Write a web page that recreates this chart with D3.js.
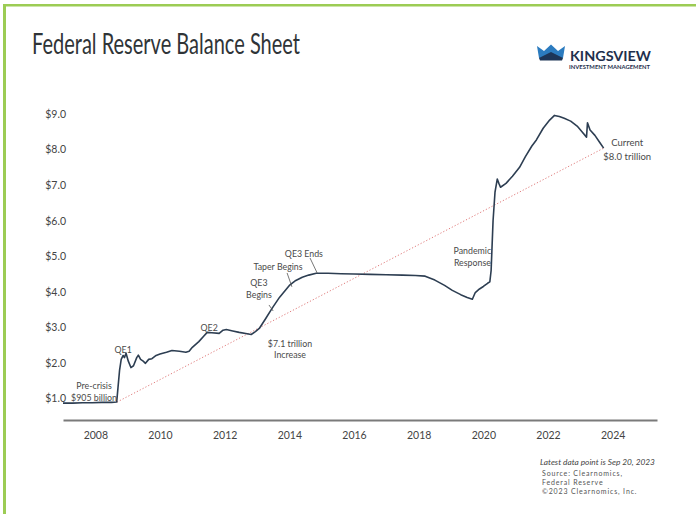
<!DOCTYPE html>
<html><head><meta charset="utf-8">
<script src="https://cdn.jsdelivr.net/npm/d3@7"></script>
<style>
html,body{margin:0;padding:0;background:#fff;}
svg{display:block;font-family:Lato,"Open Sans",sans-serif;}
</style></head>
<body>
<svg id="c" width="696" height="514"></svg>
<script>
// ---- data (decimal years, $ trillions) ----
const dates = [2007.00,2007.30,2007.60,2007.90,2008.20,2008.50,2008.66,2008.70,2008.75,2008.80,2008.86,2008.90,2008.95,2009.02,2009.10,2009.18,2009.28,2009.33,2009.40,2009.48,2009.55,2009.65,2009.75,2009.88,2010.00,2010.20,2010.37,2010.60,2010.80,2010.90,2011.00,2011.20,2011.35,2011.46,2011.60,2011.83,2011.95,2012.05,2012.25,2012.45,2012.65,2012.82,2012.95,2013.07,2013.25,2013.47,2013.70,2014.00,2014.20,2014.40,2014.60,2014.83,2015.20,2015.60,2016.00,2016.50,2017.00,2017.50,2017.90,2018.20,2018.50,2018.80,2019.04,2019.30,2019.50,2019.66,2019.75,2019.88,2020.00,2020.13,2020.20,2020.24,2020.30,2020.36,2020.43,2020.48,2020.53,2020.70,2020.90,2021.12,2021.30,2021.50,2021.64,2021.85,2022.05,2022.20,2022.35,2022.50,2022.70,2022.90,2023.05,2023.19,2023.22,2023.30,2023.45,2023.60,2023.72];
const balance = [0.87,0.87,0.88,0.88,0.89,0.89,0.90,1.30,1.80,2.10,2.21,2.15,2.27,2.05,1.87,1.92,2.15,2.22,2.10,2.05,1.99,2.10,2.12,2.21,2.25,2.30,2.35,2.33,2.30,2.33,2.44,2.60,2.75,2.86,2.85,2.83,2.92,2.94,2.90,2.86,2.83,2.80,2.88,2.97,3.22,3.54,3.85,4.18,4.32,4.41,4.47,4.52,4.52,4.51,4.50,4.49,4.48,4.47,4.46,4.44,4.33,4.18,4.04,3.92,3.84,3.79,3.98,4.08,4.15,4.24,4.28,4.60,6.00,6.80,7.17,7.05,6.94,7.05,7.25,7.50,7.80,8.10,8.27,8.60,8.83,8.96,8.93,8.88,8.80,8.66,8.50,8.35,8.75,8.55,8.40,8.20,8.04];
const trendDates = [2008.67, 2023.72];
const trendValues = [0.90, 8.04];
const yTicks = [1,2,3,4,5,6,7,8,9];
const xTicks = [2008,2010,2012,2014,2016,2018,2020,2022,2024];
const annotations = [
  {lines:["Pre-crisis","$905 billion"], d:2007.96, v:1.26},
  {lines:["QE1"], d:2008.86, v:2.29},
  {lines:["QE2"], d:2011.52, v:2.91},
  {lines:["QE3","Begins"], d:2013.06, v:4.15},
  {lines:["Taper Begins"], d:2013.65, v:4.60},
  {lines:["QE3 Ends"], d:2014.45, v:4.99},
  {lines:["$7.1 trillion","Increase"], d:2014.02, v:2.46},
  {lines:["Pandemic","Response"], d:2019.66, v:5.05},
  {lines:["Current","$8.0 trillion"], d:2024.45, v:8.11}
];
const leaders = [ // [d1,v1,d2,v2]
  [2013.37,3.63,2013.50,3.46],
  [2013.93,4.53,2014.08,4.14],
  [2014.64,4.95,2014.86,4.53]
];

const svg = d3.select("#c");
svg.append("rect").attr("width",696).attr("height",514).attr("fill","#fff");
// green frame
svg.append("rect").attr("x",3).attr("y",4).attr("width",693).attr("height",2.5).attr("fill","#9ccc54");
svg.append("rect").attr("x",3).attr("y",4).attr("width",3).attr("height",510).attr("fill","#9ccc54");

// title
svg.append("text").attr("x",32).attr("y",54).attr("font-size",28.5).attr("fill","#2f3437")
  .attr("textLength",268).attr("lengthAdjust","spacingAndGlyphs")
  .text("Federal Reserve Balance Sheet");

// logo
const logo = svg.append("g");
logo.append("path").attr("d","M537,46 L544,51 L551,44.5 L558,51 L565,46 L563,58 L539,58 Z").attr("fill","#2b7bbf");
logo.append("path").attr("d","M539,58 L551,52 L563,58 L562,60.5 L540,60.5 Z").attr("fill","#1d3557");
logo.append("text").attr("x",570).attr("y",61).attr("font-size",14).attr("font-weight",700)
  .attr("fill","#1e2f4d").attr("textLength",81).attr("lengthAdjust","spacingAndGlyphs").text("KINGSVIEW");
logo.append("text").attr("x",569).attr("y",69).attr("font-size",5.6).attr("font-weight",700)
  .attr("fill","#1e2f4d").attr("textLength",81).attr("lengthAdjust","spacingAndGlyphs").text("INVESTMENT MANAGEMENT");

// scales
const x = d3.scaleLinear().domain([2007, 2025.37]).range([63, 657]);
const y = d3.scaleLinear().domain([1, 9]).range([398.5, 114]);

// y axis labels
const yAxis = d3.axisLeft(y).tickValues(yTicks).tickSize(0).tickPadding(0)
  .tickFormat(d => "$" + d3.format(".1f")(d));
const gy = svg.append("g").attr("transform","translate(66,0)").call(yAxis);
gy.select(".domain").remove();
gy.selectAll("text").attr("font-size",10.5).attr("fill","#444").attr("font-family","Lato");

// x axis
const xAxis = d3.axisBottom(x).tickValues(xTicks).tickSize(0).tickPadding(12).tickFormat(d3.format("d"));
const gx = svg.append("g").attr("transform","translate(0,420)").call(xAxis);
gx.select(".domain").attr("stroke","#7a7a7a").attr("stroke-width",1.8);
gx.selectAll("text").attr("font-size",10.5).attr("fill","#444").attr("font-family","Lato");

// trend line
svg.append("line")
  .attr("x1",x(trendDates[0])).attr("y1",y(trendValues[0]))
  .attr("x2",x(trendDates[1])).attr("y2",y(trendValues[1]))
  .attr("stroke","#e07b7b").attr("stroke-width",1).attr("stroke-dasharray","1.2,2");

// main line
const pts = dates.map((d,i)=>[d,balance[i]]);
svg.append("path").datum(pts)
  .attr("d", d3.line().x(p=>x(p[0])).y(p=>y(p[1])))
  .attr("fill","none").attr("stroke","#2d3e52").attr("stroke-width",1.6).attr("stroke-linejoin","round");

// leaders
svg.selectAll("line.ld").data(leaders).join("line").attr("class","ld")
  .attr("x1",d=>x(d[0])).attr("y1",d=>y(d[1])).attr("x2",d=>x(d[2])).attr("y2",d=>y(d[3]))
  .attr("stroke","#555").attr("stroke-width",0.8);

// annotations
annotations.forEach(a=>{
  const gap = a.lines[0]==="Current" ? 14 : 11.5;
  const fs = a.lines[0]==="Current" ? 9.5 : 8.8;
  const t = svg.append("text").attr("text-anchor","middle").attr("font-size",fs).attr("fill","#4a4a4a")
    .attr("x",x(a.d)).attr("y",y(a.v));
  a.lines.forEach((l,i)=>t.append("tspan").attr("x",x(a.d)).attr("dy",i===0?0:gap).text(l));
});

// footnotes
svg.append("text").attr("x",540).attr("y",465).attr("font-size",8.3).attr("font-style","italic")
  .attr("fill","#444").text("Latest data point is Sep 20, 2023");
const src = ["Source: Clearnomics,","Federal Reserve","\u00a92023 Clearnomics, Inc."];
src.forEach((s,i)=>svg.append("text").attr("x",542).attr("y",476+i*9).attr("font-size",7)
  .attr("letter-spacing",0.85).attr("fill","#555").text(s));
</script>
</body></html>
